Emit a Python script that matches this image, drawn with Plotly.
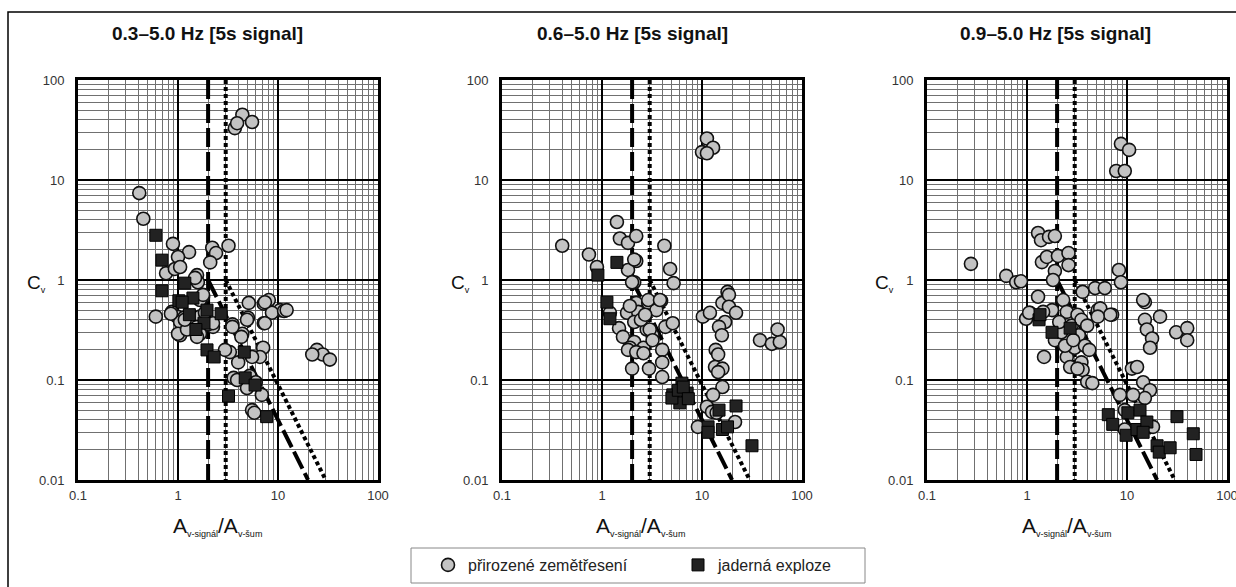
import plotly.graph_objects as go

W, H = 1236, 587

titles = ["0.3–5.0 Hz [5s signal]", "0.6–5.0 Hz [5s signal]", "0.9–5.0 Hz [5s signal]"]
legend_names = ["přirozené zemětřesení", "jaderná exploze"]
x_ticks = [0.1, 1, 10, 100]
x_ticktext = ["0.1", "1", "10", "100"]
y_ticks = [0.01, 0.1, 1, 10, 100]
y_ticktext = ["0.01", "0.1", "1", "10", "100"]

# Panel 1: 0.3-5.0 Hz  (earthquakes = circles, explosions = squares)
eq1_x = [0.41, 0.45, 3.7, 4.4, 3.9, 5.5, 0.89, 1.29, 1.0, 2.2, 2.4, 3.2, 2.1, 0.76, 0.93, 1.05,
         1.55, 1.58, 1.48, 0.6, 1.05, 0.87, 0.98, 1.15, 1.05, 1.32, 1.0, 1.23, 1.78, 2.24, 1.66,
         2.0, 1.17, 1.55, 1.66, 1.86, 1.66, 1.78, 2.24, 1.55, 0.85, 5.1, 7.2, 8.1, 10.5, 8.7,
         7.2, 5.0, 3.5, 4.4, 11.5, 12.2, 3.5, 4.3, 3.3, 4.0, 7.1, 6.6, 5.5, 2.95, 3.6, 4.9, 6.9,
         5.5, 5.8, 4.9, 7.4, 7.4, 24.5, 28, 33, 22, 3.9, 5.2, 6.0]
eq1_y = [7.4, 4.1, 33, 45, 37, 38, 2.3, 1.9, 1.7, 2.1, 1.86, 2.2, 1.5, 1.17, 1.29, 1.35,
         1.12, 0.95, 1.05, 0.43, 0.28, 0.48, 0.43, 0.42, 0.38, 0.37, 0.29, 0.32, 0.68, 0.34, 0.43,
         0.36, 0.4, 0.34, 0.29, 0.47, 0.63, 0.71, 0.37, 0.27, 0.46, 0.59, 0.58, 0.63, 0.5, 0.47,
         0.37, 0.42, 0.36, 0.29, 0.49, 0.5, 0.34, 0.27, 0.19, 0.15, 0.21, 0.17, 0.17, 0.2, 0.105, 0.083, 0.071,
         0.05, 0.047, 0.4, 0.6, 0.37, 0.2, 0.18, 0.16, 0.18, 0.1, 0.11, 0.095]
ex1_x = [0.6, 0.69, 0.69, 1.17, 1.02, 1.41, 1.1, 1.95, 2.7, 1.82, 1.51, 1.95, 2.3, 4.6, 4.7,
         5.9, 3.2, 7.7, 1.3]
ex1_y = [2.8, 1.58, 0.78, 0.93, 0.62, 0.66, 0.6, 0.5, 0.46, 0.37, 0.32, 0.2, 0.17, 0.19, 0.105,
         0.089, 0.069, 0.043, 0.45]

# Panel 2: 0.6-5.0 Hz
eq2_x = [0.4, 0.74, 0.89, 1.41, 1.51, 1.82, 2.2, 2.2, 1.82, 2.1, 4.2, 4.8, 5.2, 18,
         11.2, 10, 12.9, 11.2, 1.2, 1.48, 1.62, 2.1, 2.0, 2.2, 2.9, 3.9, 3.5, 1.78, 2.3, 2.1,
         2.8, 4.3, 5.1, 3.2, 2.1, 1.9, 4.0, 2.6, 1.82, 2.2, 2.6, 2.0, 2.9, 3.0, 3.8, 3.2, 4.0,
         2.95, 4.0, 2.45, 2.7, 1.9, 10.2, 12, 16, 18.6, 18.6, 21.9, 17, 14.8, 15.8, 13.7, 14.5,
         13.5, 16, 14.5, 16, 12.9, 11.2, 12.6, 14, 9.1, 21.4, 38, 50, 60, 57]
eq2_y = [2.2, 1.8, 1.35, 3.8, 2.6, 2.35, 2.75, 1.55, 1.26, 0.95, 2.2, 1.29, 0.93, 0.76,
         26, 19, 21, 18.5, 0.47, 0.33, 0.27, 1.6, 0.95, 0.59, 0.59, 0.62, 0.5, 0.47, 0.48, 0.38,
         0.32, 0.34, 0.37, 0.28, 0.24, 0.21, 0.2, 0.21, 0.2, 0.19, 0.185, 0.13, 0.63, 0.32, 0.63, 0.25, 0.15,
         0.13, 0.107, 0.4, 0.45, 0.55, 0.43, 0.47, 0.59, 0.71, 0.54, 0.47, 0.38, 0.34, 0.28, 0.2, 0.18,
         0.135, 0.13, 0.12, 0.085, 0.071, 0.054, 0.048, 0.047, 0.034, 0.038, 0.25, 0.23, 0.24, 0.32]
ex2_x = [0.91, 1.41, 1.12, 1.2, 5.1, 6.3, 7.1, 6.0, 5.0, 5.8, 6.5, 7.3, 11.5, 11.5, 14.8, 16,
         21.9, 31.6, 18]
ex2_y = [1.12, 1.5, 0.6, 0.41, 0.071, 0.093, 0.074, 0.059, 0.066, 0.079, 0.085, 0.065, 0.034, 0.03,
         0.05, 0.032, 0.055, 0.022, 0.034]

# Panel 3: 0.9-5.0 Hz
eq3_x = [0.275, 0.62, 0.78, 0.87, 1.29, 1.38, 1.66, 1.9, 1.41, 1.58, 2.04, 2.6, 2.6, 1.9, 1.82,
         8.7, 10.5, 7.8, 9.5, 8.3, 8.7, 3.6, 4.8, 6.0, 15.1, 1.29, 2.3, 1.07, 1.78, 2.5, 3.2, 5.1,
         7.1, 0.98, 1.05, 1.45, 1.48, 1.9, 2.5, 3.0, 3.5, 3.6, 4.0, 4.5, 2.7, 3.2, 5.4, 6.8, 5.1,
         14.5, 21.4, 15.1, 15.8, 17.8, 17, 31, 40, 40, 11.2, 12.6, 14.5, 17, 15.1, 11.5, 8.5, 9.5,
         18.2, 9.5, 2.2, 2.8, 3.3, 2.4, 3.8, 4.2, 2.9, 3.5, 4.0, 2.1]
eq3_y = [1.45, 1.1, 0.95, 0.97, 2.95, 2.5, 2.7, 2.75, 1.51, 1.7, 1.74, 1.86, 1.41, 1.23, 1.0,
         23, 20, 12.3, 12.3, 1.26, 0.95, 0.76, 0.83, 0.83, 0.6, 0.68, 0.63, 0.47, 0.5, 0.48, 0.45, 0.5,
         0.45, 0.41, 0.47, 0.48, 0.17, 0.25, 0.17, 0.21, 0.15, 0.126, 0.096, 0.093, 0.135, 0.13, 0.52, 0.45, 0.43,
         0.63, 0.43, 0.4, 0.32, 0.26, 0.21, 0.3, 0.33, 0.25, 0.13, 0.135, 0.095, 0.079, 0.066, 0.071, 0.071, 0.05,
         0.034, 0.032, 0.3, 0.35, 0.28, 0.22, 0.22, 0.2, 0.25, 0.4, 0.35, 0.38]
ex3_x = [1.32, 1.35, 1.78, 2.7, 6.5, 7.2, 9.8, 10.2, 13.5, 12.6, 15.8, 14.5, 20, 21, 27, 31.6, 46, 49]
ex3_y = [0.4, 0.45, 0.3, 0.33, 0.045, 0.036, 0.028, 0.047, 0.05, 0.032, 0.038, 0.03, 0.022, 0.019,
         0.021, 0.043, 0.029, 0.018]

# Threshold lines (same in all panels)
vdash_x = [2, 2]
vdot_x = [3, 3]
vline_y = [100, 0.01]
diag_dash_x = [2, 20]
diag_dash_y = [1, 0.01]
diag_dot_x = [3, 30]
diag_dot_y = [1, 0.01]

panels = [(eq1_x, eq1_y, ex1_x, ex1_y), (eq2_x, eq2_y, ex2_x, ex2_y), (eq3_x, eq3_y, ex3_x, ex3_y)]
lefts = [78, 502, 927]
pw = 300
top_px, bot_px = 80, 480

fig = go.Figure()
FONT = "Liberation Sans, Arial, sans-serif"
dash_style = dict(color="black", width=4, dash="19px,5px")
dot_style = dict(color="black", width=4, dash="4px,3px")

for i, (ex, ey, nx, ny) in enumerate(panels):
    xa = "x" if i == 0 else f"x{i+1}"
    ya = "y" if i == 0 else f"y{i+1}"
    for xs, ys, st in [(vdash_x, vline_y, dash_style), (vdot_x, vline_y, dot_style),
                       (diag_dash_x, diag_dash_y, dash_style), (diag_dot_x, diag_dot_y, dot_style)]:
        fig.add_trace(go.Scatter(x=xs, y=ys, mode="lines", line=st, xaxis=xa, yaxis=ya,
                                 showlegend=False, hoverinfo="skip"))
    fig.add_trace(go.Scatter(x=ex, y=ey, mode="markers", name=legend_names[0], xaxis=xa, yaxis=ya,
                             showlegend=(i == 0),
                             marker=dict(symbol="circle", size=13, color="#c3c3c3",
                                         line=dict(color="#111", width=1.6))))
    fig.add_trace(go.Scatter(x=nx, y=ny, mode="markers", name=legend_names[1], xaxis=xa, yaxis=ya,
                             showlegend=(i == 0),
                             marker=dict(symbol="square", size=12, color="#222",
                                         line=dict(color="#000", width=1))))

    axis_common = dict(type="log", showline=True, mirror=True, linecolor="black", linewidth=3,
                       showgrid=True, gridcolor="black", gridwidth=2, zeroline=False,
                       ticks="", tickfont=dict(family=FONT, size=13, color="#333"),
                       minor=dict(dtick="D1", showgrid=True, gridcolor="#707070", gridwidth=1, ticks=""))
    xkey = "xaxis" if i == 0 else f"xaxis{i+1}"
    ykey = "yaxis" if i == 0 else f"yaxis{i+1}"
    fig.update_layout(**{
        xkey: dict(axis_common, domain=[lefts[i] / W, (lefts[i] + pw) / W], range=[-1, 2],
                   anchor=ya, tickmode="array", tickvals=x_ticks, ticktext=x_ticktext,
                   ticklabelstandoff=1, ticklabeloverflow="allow"),
        ykey: dict(axis_common, domain=[1 - bot_px / H, 1 - top_px / H], range=[-2, 2],
                   anchor=xa, tickmode="array", tickvals=y_ticks, ticktext=y_ticktext,
                   ticklabelstandoff=8, ticklabeloverflow="allow"),
    })

annotations = []
title_cx = [207, 632, 1055]
xlab_cx = [217, 640, 1066]
ylab_cx = [36, 460, 884]
xlabel = ("A<sub><span style='font-size:9px'>v-signál</span></sub>/"
          "A<sub><span style='font-size:9px'>v-šum</span></sub>")
ylabel = "C<sub><span style='font-size:9px'>v</span></sub>"
for i in range(3):
    annotations.append(dict(text=f"<b>{titles[i]}</b>", x=title_cx[i] / W, y=1 - 33 / H, xref="paper",
                            yref="paper", showarrow=False, xanchor="center", yanchor="middle",
                            font=dict(family=FONT, size=19, color="#111")))
    annotations.append(dict(text=xlabel, x=xlab_cx[i] / W, y=1 - 526 / H,
                            xref="paper", yref="paper", showarrow=False, xanchor="center",
                            yanchor="middle", font=dict(family=FONT, size=21, color="#111")))
    annotations.append(dict(text=ylabel, x=ylab_cx[i] / W, y=1 - 284 / H, xref="paper",
                            yref="paper", showarrow=False, xanchor="center", yanchor="middle",
                            font=dict(family=FONT, size=19, color="#111")))

fig.update_layout(
    width=W, height=H, margin=dict(l=0, r=0, t=0, b=0, autoexpand=False),
    paper_bgcolor="white", plot_bgcolor="white",
    annotations=annotations,
    shapes=[dict(type="rect", xref="paper", yref="paper", x0=8 / W, x1=1.02, y0=-0.05, y1=1 - 12 / H,
                 line=dict(color="black", width=1.5), fillcolor="rgba(0,0,0,0)", layer="below"),
            dict(type="rect", xref="paper", yref="paper", x0=411 / W, x1=865 / W, y0=1 - 583 / H,
                 y1=1 - 548 / H, line=dict(color="#888", width=1), fillcolor="white", layer="below")],
    legend=dict(orientation="h", x=428 / W, y=1 - 565 / H, xanchor="left", yanchor="middle",
                borderwidth=0, bgcolor="rgba(0,0,0,0)",
                font=dict(family=FONT, size=16, color="#222"), entrywidth=205, entrywidthmode="pixels"),
)

fig.write_html("out.html", post_script="document.body.style.margin='0px';",
               config={"displayModeBar": False})
